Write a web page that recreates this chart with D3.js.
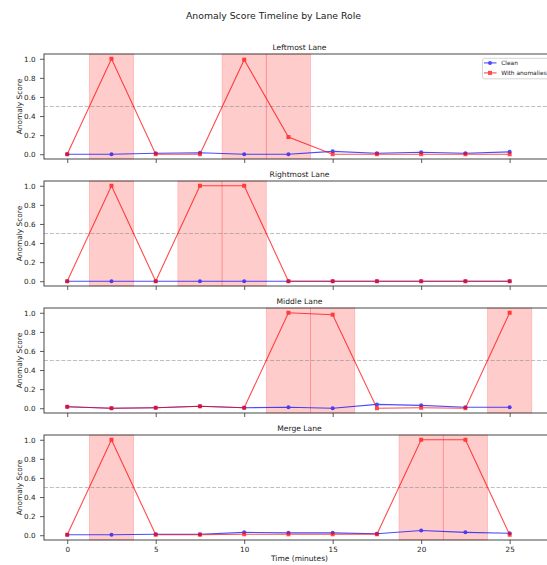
<!DOCTYPE html>
<html>
<head>
<meta charset="utf-8">
<script src="https://cdn.jsdelivr.net/npm/d3@7"></script>
<style>
  body { margin: 0; background: #fff; }
  text { font-family: "DejaVu Sans", sans-serif; fill: #222; }
</style>
</head>
<body>
<script>
// time axis (minutes)
var times = [0, 2.5, 5, 7.5, 10, 12.5, 15, 17.5, 20, 22.5, 25];
var lanes = ["Leftmost Lane", "Rightmost Lane", "Middle Lane", "Merge Lane"];

// clean scores per lane
var cleanLeftmost  = [0.00, 0.00, 0.01, 0.015, 0.00, 0.00, 0.03, 0.01, 0.02, 0.01, 0.025];
var cleanRightmost = [0.00, 0.00, 0.00, 0.00, 0.00, 0.00, 0.00, 0.00, 0.00, 0.00, 0.00];
var cleanMiddle    = [0.015, 0.00, 0.005, 0.02, 0.005, 0.01, 0.00, 0.04, 0.03, 0.01, 0.01];
var cleanMerge     = [0.005, 0.005, 0.01, 0.01, 0.03, 0.025, 0.025, 0.015, 0.05, 0.03, 0.02];

// scores with injected anomalies
var anomLeftmost  = [0.00, 1.00, 0.00, 0.00, 0.99, 0.18, 0.00, 0.00, 0.00, 0.00, 0.00];
var anomRightmost = [0.00, 1.00, 0.00, 1.00, 1.00, 0.00, 0.00, 0.00, 0.00, 0.00, 0.00];
var anomMiddle    = [0.015, 0.00, 0.005, 0.02, 0.005, 1.00, 0.98, 0.00, 0.005, 0.00, 1.00];
var anomMerge     = [0.005, 1.00, 0.005, 0.005, 0.01, 0.01, 0.01, 0.01, 1.00, 1.00, 0.005];

// times where anomalies were injected
var injLeftmost  = [2.5, 10, 12.5];
var injRightmost = [2.5, 7.5, 10];
var injMiddle    = [12.5, 15, 25];
var injMerge     = [2.5, 20, 22.5];

var halfWindow = 1.25;
var threshold = 0.5;
var yTicks = [0, 0.2, 0.4, 0.6, 0.8, 1.0];
var xTicks = [0, 5, 10, 15, 20, 25];

var cleanSeries = [cleanLeftmost, cleanRightmost, cleanMiddle, cleanMerge];
var anomSeries = [anomLeftmost, anomRightmost, anomMiddle, anomMerge];
var injSeries = [injLeftmost, injRightmost, injMiddle, injMerge];

var W = 547, H = 565;
var left = 44, right = 555, panelH = 105, step = 127, firstTop = 54;

var svg = d3.select("body").append("svg")
    .attr("width", W)
    .attr("height", H);

svg.append("text")
    .attr("x", 273.5).attr("y", 19)
    .attr("text-anchor", "middle")
    .style("font-size", "9.3px")
    .text("Anomaly Score Timeline by Lane Role");

var x = d3.scaleLinear().domain([-1.3125, 27.5625]).range([left, right]);

lanes.forEach(function(name, i) {
  var top = firstTop + i * step;
  var y = d3.scaleLinear().domain([-0.05, 1.05]).range([top + panelH, top]);
  var g = svg.append("g");

  // anomaly windows
  g.selectAll(".span")
    .data(injSeries[i])
    .enter().append("rect")
    .attr("x", function(d) { return x(d - halfWindow); })
    .attr("y", top)
    .attr("width", function(d) { return x(d + halfWindow) - x(d - halfWindow); })
    .attr("height", panelH)
    .style("fill", "red").style("fill-opacity", 0.2)
    .style("stroke", "red").style("stroke-opacity", 0.2)
    .style("stroke-width", 0.8);

  // threshold
  g.append("line")
    .attr("x1", left).attr("x2", right)
    .attr("y1", y(threshold)).attr("y2", y(threshold))
    .style("stroke", "#808080").style("stroke-opacity", 0.5)
    .style("stroke-width", 1).style("stroke-dasharray", "4,1.8");

  var line = d3.line()
    .x(function(d, k) { return x(times[k]); })
    .y(function(d) { return y(d); });

  // clean
  var cg = g.append("g").style("opacity", 0.7);
  cg.append("path")
    .attr("d", line(cleanSeries[i]))
    .style("fill", "none").style("stroke", "blue").style("stroke-width", 1.1);
  cg.selectAll("circle")
    .data(cleanSeries[i])
    .enter().append("circle")
    .attr("cx", function(d, k) { return x(times[k]); })
    .attr("cy", function(d) { return y(d); })
    .attr("r", 2)
    .style("fill", "blue");

  // with anomalies
  var ag = g.append("g").style("opacity", 0.7);
  ag.append("path")
    .attr("d", line(anomSeries[i]))
    .style("fill", "none").style("stroke", "red").style("stroke-width", 1.1);
  ag.selectAll("rect")
    .data(anomSeries[i])
    .enter().append("rect")
    .attr("x", function(d, k) { return x(times[k]) - 2; })
    .attr("y", function(d) { return y(d) - 2; })
    .attr("width", 4).attr("height", 4)
    .style("fill", "red");

  // axes
  var xAxis = g.append("g")
    .attr("transform", "translate(0," + (top + panelH) + ")")
    .call(d3.axisBottom(x).tickValues(xTicks).tickSize(4).tickPadding(2.5)
      .tickFormat(i === lanes.length - 1 ? d3.format("d") : ""));
  var yAxis = g.append("g")
    .attr("transform", "translate(" + left + ",0)")
    .call(d3.axisLeft(y).tickValues(yTicks).tickSize(4).tickPadding(4.5)
      .tickFormat(d3.format(".1f")));
  [xAxis, yAxis].forEach(function(a) {
    a.select(".domain").remove();
    a.selectAll("line").style("stroke", "#333").style("stroke-width", 0.8);
    a.selectAll("text").style("font-size", "7.2px")
      .style("font-family", "DejaVu Sans, sans-serif").style("fill", "#222");
  });

  g.append("rect")
    .attr("x", left).attr("y", top)
    .attr("width", right - left).attr("height", panelH)
    .style("fill", "none").style("stroke", "#333").style("stroke-width", 0.9);

  g.append("text")
    .attr("x", (left + right) / 2).attr("y", top - 4)
    .attr("text-anchor", "middle")
    .style("font-size", "7.6px")
    .text(name);

  g.append("text")
    .attr("transform", "translate(22," + (top + panelH / 2) + ") rotate(-90)")
    .attr("text-anchor", "middle")
    .style("font-size", "7.4px")
    .text("Anomaly Score");

  if (i === 0) {
    var lg = g.append("g").attr("transform", "translate(482.5," + (top + 4.3) + ")");
    lg.append("rect")
      .attr("width", 70).attr("height", 20.5).attr("rx", 2)
      .style("fill", "white").style("fill-opacity", 0.8)
      .style("stroke", "#ccc").style("stroke-width", 0.8);
    var items = [{label: "Clean", color: "blue", shape: "circle"},
                 {label: "With anomalies", color: "red", shape: "square"}];
    items.forEach(function(it, j) {
      var ly = 4.6 + j * 10;
      var e = lg.append("g").style("opacity", 0.7);
      e.append("line")
        .attr("x1", 1.5).attr("x2", 14).attr("y1", ly).attr("y2", ly)
        .style("stroke", it.color).style("stroke-width", 1.1);
      if (it.shape === "circle") {
        e.append("circle").attr("cx", 7.5).attr("cy", ly).attr("r", 2).style("fill", it.color);
      } else {
        e.append("rect").attr("x", 5.5).attr("y", ly - 2).attr("width", 4).attr("height", 4).style("fill", it.color);
      }
      lg.append("text")
        .attr("x", 18.7).attr("y", ly + 2.1)
        .style("font-size", "5.9px")
        .text(it.label);
    });
  }
});

svg.append("text")
  .attr("x", (left + right) / 2).attr("y", 561)
  .attr("text-anchor", "middle")
  .style("font-size", "7.5px")
  .text("Time (minutes)");
</script>
</body>
</html>
